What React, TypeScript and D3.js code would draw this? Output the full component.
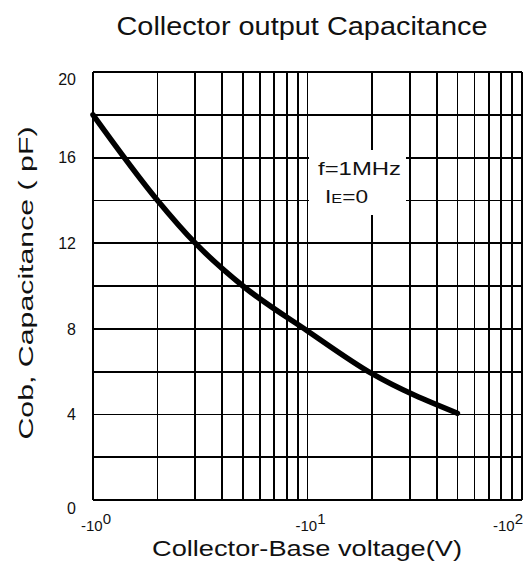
import React from 'react';
import * as d3 from 'd3';

// Cob vs collector-base voltage
const voltage = [1, 2, 3, 5, 10, 20, 50];
const capacitance = [18, 14, 12, 10, 7.9, 5.9, 4.05];

const yTicks = [0, 4, 8, 12, 16, 20];
const yGrid = [0, 2, 4, 6, 8, 10, 12, 14, 16, 18, 20];
const xGrid = [1, 2, 3, 4, 5, 6, 7, 8, 9, 10, 20, 30, 40, 50, 60, 70, 80, 90, 100];
const xTicks = [1, 10, 100];
const xTickExp = ['0', '1', '2'];

const W = 526;
const H = 583;
const margin = { top: 72, right: 4, bottom: 83, left: 93 };
const font = '"Liberation Sans", Arial, Helvetica, sans-serif';

export default function App() {
    const x = d3.scaleLog().domain([1, 100]).range([margin.left, W - margin.right]);
    const y = d3.scaleLinear().domain([0, 20]).range([H - margin.bottom, margin.top]);

    const pts: [number, number][] = voltage.map((v, i) => [x(v), y(capacitance[i])]);
    const line = d3.line().curve(d3.curveMonotoneX)(pts) || '';

    // end labels sit a little inside the frame
    const yLabelPos = (v: number) => {
        if (v === 20) return y(v) + 7;
        if (v === 0) return y(v) + 8;
        return y(v);
    };

    return (
        <svg width={W} height={H} style={{ position: 'absolute', left: 0, top: 0, background: '#fff' }}
            fontFamily={font}>
            <text x={302} y={35} fontSize={25} textAnchor="middle" textLength={371}
                lengthAdjust="spacingAndGlyphs" fill="#111">Collector output Capacitance</text>

            {/* grid */}
            <g stroke="#000" strokeWidth={1.8} shapeRendering="crispEdges">
                {xGrid.map(v => (
                    <line key={'vx' + v} x1={x(v)} x2={x(v)} y1={y(0)} y2={y(20)} />
                ))}
                {yGrid.map(v => (
                    <line key={'hy' + v} x1={x(1)} x2={x(100)} y1={y(v)} y2={y(v)} />
                ))}
            </g>

            <path d={line} fill="none" stroke="#000" strokeWidth={5.5} strokeLinecap="round" />

            {/* condition note */}
            <rect x={309} y={150} width={97} height={65} fill="#fff" />
            <text x={318} y={175} fontSize={18} textLength={83} lengthAdjust="spacingAndGlyphs" fill="#111">f=1MHz</text>
            <text x={325} y={203} fontSize={18} textLength={43} lengthAdjust="spacingAndGlyphs" fill="#111">
                I<tspan fontSize={13}>E</tspan>=0
            </text>

            {/* y tick labels */}
            {yTicks.map(v => (
                <text key={'yt' + v} x={76} y={yLabelPos(v)} dy="0.36em" fontSize={16}
                    textAnchor="end" fill="#111">{v}</text>
            ))}

            {/* x tick labels */}
            {xTicks.map((v, i) => {
                const last = i === xTicks.length - 1;
                return (
                    <text key={'xt' + v} x={last ? W - 3 : x(v) + 3} y={531} fontSize={15}
                        textAnchor={last ? 'end' : 'middle'} fill="#111">
                        -10<tspan dy={-7}>{xTickExp[i]}</tspan>
                    </text>
                );
            })}

            <text x={307} y={556} fontSize={22} textAnchor="middle" textLength={310}
                lengthAdjust="spacingAndGlyphs" fill="#111">Collector-Base voltage(V)</text>

            <text transform="translate(33,283) rotate(-90)" fontSize={21} textAnchor="middle"
                textLength={313} lengthAdjust="spacingAndGlyphs" fill="#111">Cob, Capacitance ( pF)</text>
        </svg>
    );
}
